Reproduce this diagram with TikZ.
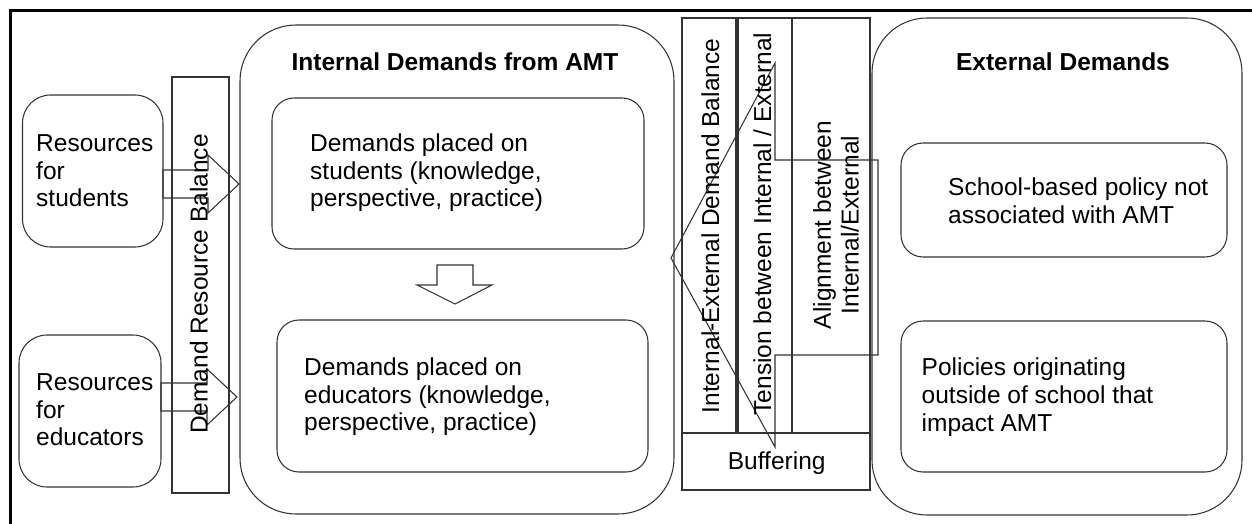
\documentclass[tikz,border=0pt]{standalone}
\usepackage{fontspec}
\setmainfont{Liberation Sans}
\begin{document}
\begin{tikzpicture}[x=1pt,y=-1pt,
  ln/.style={draw=black!80, line width=1.05pt},
  rbox/.style={ln, rectangle, rounded corners=#1, inner sep=0pt},
  sbox/.style={ln, rectangle, inner sep=0pt},
  txt/.style={font=\fontsize{24.5}{27.6}\selectfont, inner sep=0pt, text=black},
  ttl/.style={font=\fontsize{24.5}{27.6}\selectfont\bfseries, inner sep=0pt, text=black}]
\useasboundingbox (0,0) rectangle (1252,524);
% frame
\draw[line width=3pt, black] (10,524) -- (10,11) -- (1252,11);
% left boxes
\node[rbox=28pt, minimum width=140.5pt, minimum height=152pt] (resS) at (92.75,171) {};
\node[rbox=28pt, minimum width=142pt, minimum height=152pt] (resE) at (90,411) {};
\node[sbox, minimum width=57pt, minimum height=416pt] (drb) at (200.5,285) {};
% internal
\node[rbox=56pt, minimum width=434pt, minimum height=489pt] (intl) at (457,269.5) {};
\node[rbox=22pt, minimum width=372pt, minimum height=151pt] (dstud) at (458,173.5) {};
\node[rbox=22pt, minimum width=371pt, minimum height=152pt] (dedu) at (462.5,396) {};
% middle
\node[sbox, minimum width=188pt, minimum height=472pt] (mid) at (776,254) {};
\draw[ln] (736,18) -- (736,433);
\draw[ln] (738,18) -- (738,433);
\draw[ln] (792,18) -- (792,433);
\draw[ln] (682,433) -- (870,433);
% external
\node[rbox=55pt, minimum width=370pt, minimum height=497pt] (extl) at (1057,266.5) {};
\node[rbox=22pt, minimum width=326pt, minimum height=114pt] (school) at (1064,200) {};
\node[rbox=22pt, minimum width=326pt, minimum height=151pt] (pol) at (1064,396.5) {};
% block arrows
\draw[ln] (163,170) -- (208,170) -- (208,155) -- (239,184) -- (208,213) -- (208,198) -- (163,198) -- cycle;
\draw[ln] (161,383) -- (207,383) -- (207,369) -- (237,397) -- (207,425) -- (207,411) -- (161,411) -- cycle;
\draw[ln] (437,265) -- (473,265) -- (473,285) -- (492,285) -- (455,304) -- (417,285) -- (437,285) -- cycle;
\draw[ln] (671,258) -- (775,63) -- (775,160) -- (878,160) -- (878,355) -- (775,355) -- (775,447) -- cycle;
% texts
\node[txt, align=left, anchor=north west] (tResS) at (36,134.5) {Resources\\for\\students};
\node[txt, align=left, anchor=north west] (tResE) at (36,373.5) {Resources\\for\\educators};
\node[txt, rotate=90, anchor=base] (tDRB) at (207.5,284) {Demand Resource Balance};
\node[ttl, anchor=base] (tIntl) at (455,70.7) {Internal Demands from AMT};
\node[txt, align=left, anchor=north west] (tDS) at (310,133.5) {Demands placed on\\students (knowledge,\\perspective, practice)};
\node[txt, align=left, anchor=north west] (tDE) at (304,357.8) {Demands placed on\\educators (knowledge,\\perspective, practice)};
\node[txt, rotate=90, anchor=base] (tIE) at (719,226) {Internal-External Demand Balance};
\node[txt, rotate=90, anchor=base] (tTen) at (771,224) {Tension between Internal / External};
\node[txt, rotate=90, align=center, anchor=north] (tAli) at (813,225) {Alignment between\\Internal/External};
\node[txt, anchor=base] (tBuf) at (776.7,469) {Buffering};
\node[ttl, anchor=base] (tExt) at (1063,70.7) {External Demands};
\node[txt, align=left, anchor=north west] (tSch) at (948,178) {School-based policy not\\associated with AMT};
\node[txt, align=left, anchor=north west] (tPol) at (921.5,358) {Policies originating\\outside of school that\\impact AMT};
\end{tikzpicture}
\end{document}
